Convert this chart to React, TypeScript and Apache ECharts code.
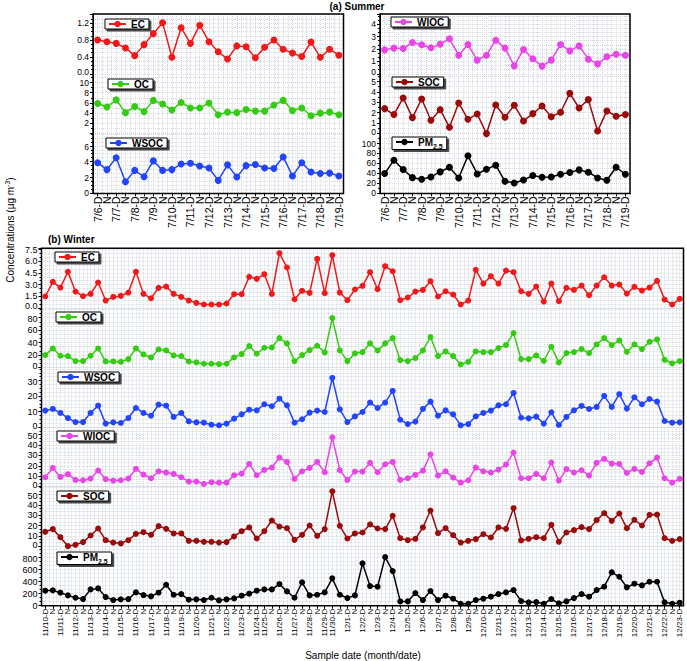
import React, { useEffect, useRef } from "react";
import * as echarts from "echarts";

const FONT = '"Liberation Sans", Arial, Helvetica, sans-serif';
const GRID_COLOR = "#d3d8e0";

// ---------- categories ----------
const summerCategories = [
  "7/6-D", "N", "7/7-D", "N", "7/8-D", "N", "7/9-D", "N", "7/10-D", "N", "7/11-D", "N", "7/12-D", "N",
  "7/13-D", "N", "7/14-D", "N", "7/15-D", "N", "7/16-D", "N", "7/17-D", "N", "7/18-D", "N", "7/19-D",
];

const winterCategories = [
  "11/10-D", "N", "11/11-D", "N", "11/12-D", "N", "11/13-D", "N", "11/14-D", "N", "11/15-D", "N",
  "11/16-D", "N", "11/17-D", "N", "11/18-D", "N", "11/19-D", "N", "11/20-D", "N", "11/21-D", "N",
  "11/22-D", "N", "11/23-D", "N", "11/24-D", "11/25-D", "N", "11/26-D", "N", "11/27-D", "N",
  "11/28-D", "N", "11/29-D", "11/30-D", "N", "12/1-D", "N", "12/2-D", "N", "12/3-D", "N", "12/4-D", "N",
  "12/5-D", "N", "12/6-D", "N", "12/7-D", "N", "12/8-D", "N", "12/9-D", "N", "12/10-D", "N",
  "12/11-D", "N", "12/12-D", "N", "12/13-D", "N", "12/14-D", "N", "12/15-D", "N", "12/16-D", "N",
  "12/17-D", "N", "12/18-D", "N", "12/19-D", "N", "12/20-D", "N", "12/21-D", "N", "12/22-D", "N", "12/23-D",
];

// ---------- summer values ----------
const summerEC = [0.80, 0.76, 0.72, 0.61, 0.43, 0.69, 0.95, 1.21, 0.39, 1.09, 0.72, 1.15, 0.76, 0.52, 0.35, 0.66, 0.64, 0.38, 0.63, 0.80, 0.58, 0.49, 0.41, 0.75, 0.39, 0.58, 0.44];
const summerOC = [5.9, 5.2, 6.6, 4.1, 5.3, 4.3, 6.5, 5.8, 4.6, 6.1, 5.0, 5.0, 6.0, 3.7, 4.2, 4.1, 4.7, 4.4, 4.4, 5.6, 6.5, 4.5, 5.0, 3.5, 4.0, 4.2, 3.7];
const summerWSOC = [3.87, 3.0, 4.5, 1.47, 2.9, 2.1, 4.1, 2.9, 3.0, 3.7, 3.8, 3.45, 3.2, 1.64, 3.6, 2.06, 3.5, 3.65, 3.2, 3.15, 4.6, 2.2, 3.87, 2.7, 2.5, 2.56, 2.2];
const summerWIOC = [1.93, 2.07, 2.04, 2.52, 2.34, 2.1, 2.39, 2.82, 1.5, 2.36, 1.1, 1.5, 2.71, 2.07, 0.64, 1.96, 1.21, 0.62, 1.1, 2.36, 1.85, 2.25, 1.18, 0.8, 1.37, 1.58, 1.5];
const summerSOC = [2.39, 1.82, 3.41, 1.53, 3.31, 1.27, 2.29, 0.6, 2.93, 1.37, 1.88, 0.0, 2.74, 1.56, 2.71, 1.21, 1.91, 2.64, 1.62, 2.04, 3.85, 2.45, 3.25, 0.25, 2.17, 1.66, 1.82];
const summerPM = [39.6, 66.4, 47.7, 31.5, 28.2, 32.9, 43, 52.3, 30.9, 75.2, 38.9, 48.3, 56.4, 24.2, 20.8, 26.8, 35.6, 32.2, 32.9, 38.3, 41.6, 47, 42.3, 30.9, 26.2, 52.3, 38.3];

// ---------- winter values ----------
const winterEC = [
  1.46, 3.34, 2.61, 4.63, 2.1, 1.5, 1.8, 3.26, 0.94, 1.41, 1.54, 1.97, 4.63, 1.8, 1.24, 2.57, 2.74, 1.8, 1.41, 0.94,
  0.64, 0.43, 0.43, 0.43, 0.56, 1.76, 1.76, 3.99, 3.73, 4.33, 1.8, 7.03, 5.19, 1.11, 2.19, 1.93, 6.3, 1.89, 6.77, 1.97,
  0.99, 2.36, 2.83, 4.59, 2.4, 5.36, 4.71, 0.99, 1.33, 2.1, 2.31, 3.43, 1.46, 2.14, 1.71, 0.43, 0.94, 4.89, 3.13, 4.07,
  3.13, 4.8, 4.59, 2.14, 1.8, 2.74, 0.81, 3.13, 0.86, 2.57, 2.31, 2.87, 1.63, 2.87, 3.94, 2.87, 3.0, 1.84, 2.7, 2.23,
  2.61, 3.47, 1.07, 0.43, 1.16,
];
const winterOC = [
  19.9, 30.6, 18.8, 18.3, 10.2, 10.2, 18.8, 30.6, 9.7, 9.7, 9.1, 13.4, 30.6, 20.9, 16.1, 29, 27.4, 19.3, 18.3, 9.7,
  8.1, 5.9, 5.9, 5.4, 5.9, 16.1, 21.5, 34.4, 22, 31.7, 32.2, 47.2, 38.7, 10.2, 19.9, 27.9, 34.9, 24.2, 79.5, 27.4,
  10.2, 22.6, 24.7, 38.7, 27.4, 38.7, 47.2, 11.8, 10.2, 15, 27.4, 48.9, 18.3, 25.8, 18.3, 4.8, 9.1, 25.8, 24.7, 24.7,
  31.1, 36, 55.3, 13.4, 13.4, 19.3, 10.7, 33.3, 8.1, 23.1, 24.7, 29.5, 23.1, 37, 47.2, 36, 43.5, 25.2, 37, 29.5,
  41.3, 45.1, 12.3, 6.4, 10.2,
];
const winterWSOC = [
  10.6, 11.7, 9.1, 5.8, 3.2, 3.2, 9.1, 13.8, 2.2, 3.0, 2.6, 5.8, 12.3, 9.1, 7.3, 14.5, 13.8, 6.5, 9.1, 3.7,
  3.0, 2.8, 1.5, 1.1, 2.2, 5.4, 8.2, 11.2, 10.8, 14.7, 13.4, 18.3, 14.0, 2.8, 5.0, 9.3, 10.6, 9.7, 31.7, 11.4,
  3.2, 6.9, 9.7, 15.8, 12.3, 15.8, 23.3, 4.7, 1.9, 3.5, 11.7, 16.4, 7.3, 10.8, 8.2, 1.1, 1.9, 6.9, 9.1, 10.6,
  14.0, 14.7, 22.0, 6.0, 5.6, 6.7, 2.2, 9.5, 1.3, 6.5, 10.8, 13.6, 11.7, 13.0, 20.1, 13.0, 21.2, 11.9, 19.2, 14.7,
  18.1, 16.4, 3.9, 2.8, 3.0,
];
const winterWIOC = [
  9.0, 17.9, 9.3, 11.9, 6.4, 6.1, 7.7, 15.4, 7.1, 5.8, 6.1, 7.7, 17.0, 11.5, 8.0, 14.7, 13.5, 12.2, 9.0, 4.8,
  4.8, 2.6, 4.2, 3.8, 3.8, 10.9, 12.5, 21.8, 10.9, 16.0, 18.3, 27.9, 23.7, 7.4, 14.7, 17.9, 23.7, 13.8, 47.4, 15.7,
  6.4, 14.4, 14.4, 22.8, 13.8, 21.5, 23.7, 6.4, 8.0, 11.2, 15.4, 31.1, 10.6, 14.7, 8.7, 3.8, 6.1, 18.3, 14.7, 13.5,
  16.3, 21.2, 32.7, 8.0, 8.0, 12.2, 8.0, 23.1, 5.8, 16.7, 13.5, 15.7, 10.6, 22.8, 26.6, 22.1, 21.8, 13.1, 17.0, 14.1,
  22.4, 27.9, 8.0, 3.8, 7.4,
];
const winterSOC = [
  13.9, 16.5, 8.7, 0, 1.3, 3.9, 10.3, 17.1, 5.8, 3.5, 2.6, 5.8, 11.9, 13.5, 11.0, 19.4, 16.8, 12.3, 12.3, 5.2,
  5.2, 4.2, 4.2, 3.5, 3.9, 9.4, 14.5, 18.1, 7.4, 14.5, 24.8, 19.0, 17.4, 6.1, 11.0, 20.0, 10.0, 16.5, 53.2, 19.7,
  7.4, 12.3, 13.2, 21.0, 17.1, 16.5, 29.4, 7.7, 5.8, 7.1, 18.1, 34.5, 12.6, 17.4, 10.6, 3.5, 5.2, 6.8, 11.6, 8.4,
  18.1, 16.8, 36.8, 5.5, 7.1, 8.7, 7.7, 20.6, 4.2, 13.2, 15.5, 18.4, 16.5, 25.2, 31.9, 24.5, 31.6, 17.4, 25.5, 20.0,
  30.3, 30.6, 7.7, 5.2, 6.8,
];
const winterPM = [
  250, 256, 217, 172, 133, 111, 272, 289, 144, 94, 106, 111, 222, 178, 156, 217, 350, 183, 194, 100,
  106, 94, 133, 89, 106, 122, 167, 200, 250, 272, 272, 361, 239, 133, 389, 172, 183, 222, 456, 183,
  128, 172, 706, 328, 317, 811, 578, 72, 72, 211, 94, 244, 94, 167, 117, 33, 33, 94, 117, 150,
  194, 222, 261, 78, 56, 61, 33, 111, 39, 72, 128, 194, 150, 261, 317, 556, 483, 306, 367, 339,
  400, 400, 56, 33, 50,
];

// ---------- colours ----------
const C_EC = "#f01818";
const C_OC = "#33cc11";
const C_WSOC = "#2244ff";
const C_WIOC = "#e845e8";
const C_SOC = "#990a0a";
const C_PM = "#000000";

interface BandSpec {
  name: string; data: number[]; color: string; max: number; interval: number; minor: number;
  digits: number; legendLeft: number; legendTop: number;
}
interface PanelSpec {
  left: number; top: number; width: number; bandH: number; cats: string[]; bands: BandSpec[];
  symbolSize: number; xFont: number; yFont: number; legendFont: number;
}

const panels: PanelSpec[] = [
  {
    left: 93, top: 14, width: 250.5, bandH: 59.8, cats: summerCategories, symbolSize: 7, xFont: 10.5, yFont: 8.5, legendFont: 10,
    bands: [
      { name: "EC", data: summerEC, color: C_EC, max: 1.415, interval: 0.4, minor: 4, digits: 1, legendLeft: 105, legendTop: 19 },
      { name: "OC", data: summerOC, color: C_OC, max: 11.7, interval: 2, minor: 2, digits: 0, legendLeft: 108, legendTop: 79 },
      { name: "WSOC", data: summerWSOC, color: C_WSOC, max: 7.54, interval: 2, minor: 4, digits: 0, legendLeft: 106, legendTop: 138 },
    ],
  },
  {
    left: 380, top: 14, width: 250, bandH: 59.8, cats: summerCategories, symbolSize: 7, xFont: 10.5, yFont: 8.5, legendFont: 10,
    bands: [
      { name: "WIOC", data: summerWIOC, color: C_WIOC, max: 4.82, interval: 1, minor: 3, digits: 0, legendLeft: 391, legendTop: 17 },
      { name: "SOC", data: summerSOC, color: C_SOC, max: 5.72, interval: 1, minor: 2, digits: 0, legendLeft: 392, legendTop: 77 },
      { name: "PM2.5", data: summerPM, color: C_PM, max: 119.5, interval: 20, minor: 2, digits: 0, legendLeft: 392, legendTop: 137 },
    ],
  },
  {
    left: 41.5, top: 248.3, width: 642, bandH: 59.57, cats: winterCategories, symbolSize: 6, xFont: 8, yFont: 9, legendFont: 10,
    bands: [
      { name: "EC", data: winterEC, color: C_EC, max: 7.66, interval: 1.5, minor: 3, digits: 1, legendLeft: 55, legendTop: 252 },
      { name: "OC", data: winterOC, color: C_OC, max: 95.9, interval: 20, minor: 3, digits: 0, legendLeft: 56, legendTop: 312 },
      { name: "WSOC", data: winterWSOC, color: C_WSOC, max: 38.5, interval: 10, minor: 4, digits: 0, legendLeft: 58, legendTop: 372 },
      { name: "WIOC", data: winterWIOC, color: C_WIOC, max: 57.3, interval: 10, minor: 3, digits: 0, legendLeft: 57, legendTop: 431 },
      { name: "SOC", data: winterSOC, color: C_SOC, max: 57.7, interval: 10, minor: 3, digits: 0, legendLeft: 57, legendTop: 491 },
      { name: "PM2.5", data: winterPM, color: C_PM, max: 993, interval: 200, minor: 3, digits: 0, legendLeft: 57, legendTop: 552 },
    ],
  },
];

function buildOption() {
  const grid: any[] = [];
  const xAxis: any[] = [];
  const yAxis: any[] = [];
  const series: any[] = [];
  const legend: any[] = [];
  const graphic: any[] = [];

  panels.forEach((p) => {
    p.bands.forEach((b, i) => {
      const gi = grid.length;
      const last = i === p.bands.length - 1;
      const first = i === 0;
      grid.push({
        left: p.left, top: p.top + i * p.bandH, width: p.width, height: p.bandH,
        containLabel: false, outerBoundsMode: "none",
      });
      const catIdx = xAxis.length;
      xAxis.push({
        type: "category", gridIndex: gi, data: p.cats, boundaryGap: true, position: "bottom",
        axisLine: { show: last, lineStyle: { color: "#000", width: 1 } },
        axisTick: { show: last, alignWithLabel: true, interval: 0, length: 3, lineStyle: { color: "#000" } },
        axisLabel: {
          show: last, interval: 0, rotate: 90, fontSize: p.xFont, color: "#000", fontFamily: FONT, margin: 3,
        },
        splitLine: { show: false },
      });
      xAxis.push({
        type: "value", gridIndex: gi, min: 0, max: p.cats.length, interval: 0.5, position: "top",
        axisLine: { show: false }, axisTick: { show: false }, axisLabel: { show: false },
        splitLine: { show: true, lineStyle: { color: GRID_COLOR, type: "dotted", width: 1 } },
      });
      const interval = b.interval;
      const digits = b.digits;
      const topTick = Math.floor(b.max / interval + 1e-9) * interval;
      yAxis.push({
        type: "value", gridIndex: gi, min: 0, max: b.max, interval,
        axisLine: { show: true, lineStyle: { color: "#000", width: 1 } },
        axisTick: { show: true, length: 3, lineStyle: { color: "#000" } },
        minorTick: { show: true, splitNumber: b.minor, length: 2, lineStyle: { color: "#000" } },
        axisLabel: {
          fontSize: p.yFont, lineHeight: p.yFont, color: "#000", fontFamily: FONT, margin: 4,
          formatter: (v: number) => {
            const r = v / interval;
            if (Math.abs(r - Math.round(r)) > 1e-6) return "";
            const s = v.toFixed(digits);
            if (!last && Math.abs(v) < 1e-9) return "{up|" + s + "}";
            if (!first && Math.abs(v - topTick) < 1e-6) return "{dn|" + s + "}";
            return s;
          },
          rich: {
            up: { fontSize: p.yFont, lineHeight: p.yFont, fontFamily: FONT, color: "#000", padding: [0, 0, 3, 0] },
            dn: { fontSize: p.yFont, lineHeight: p.yFont, fontFamily: FONT, color: "#000", padding: [2, 0, 0, 0] },
          },
        },
        splitLine: { show: true, lineStyle: { color: GRID_COLOR, type: "dotted", width: 1 } },
        minorSplitLine: { show: true, lineStyle: { color: GRID_COLOR, type: "dotted", width: 1 } },
      });
      series.push({
        type: "line", name: b.name, xAxisIndex: catIdx, yAxisIndex: gi, data: b.data,
        symbol: "circle", symbolSize: p.symbolSize, showAllSymbol: true,
        lineStyle: { color: b.color, width: 1.5 },
        itemStyle: { color: b.color, borderWidth: 0 },
        z: 5,
      });
      legend.push({
        left: b.legendLeft, top: b.legendTop, data: [b.name], orient: "horizontal",
        padding: [0, 4, 0, 3], itemWidth: 17, itemHeight: 8,
        backgroundColor: "#fff", borderColor: "#000", borderWidth: 1,
        shadowColor: "rgba(0,0,0,0.7)", shadowOffsetX: 2, shadowOffsetY: 2, shadowBlur: 1,
        selectedMode: false,
        formatter: (name: string) => (name === "PM2.5" ? "{b|PM}{s|2.5}" : "{b|" + name + "}"),
        textStyle: {
          fontFamily: FONT, fontWeight: "bold", fontSize: p.legendFont, color: "#000",
          rich: {
            b: { fontFamily: FONT, fontWeight: "bold", fontSize: p.legendFont, lineHeight: 15, color: "#000" },
            s: { fontFamily: FONT, fontWeight: "bold", fontSize: 7, lineHeight: 15, verticalAlign: "bottom", color: "#000" },
          },
        },
        z: 10,
      });
    });
    graphic.push({
      type: "rect", silent: true, z: 100,
      shape: { x: p.left, y: p.top, width: p.width, height: p.bandH * p.bands.length },
      style: { fill: "none", stroke: "#000", lineWidth: 1.5 },
    });
  });

  graphic.push(
    {
      type: "text", x: 357, y: 6, silent: true,
      style: { text: "(a) Summer", font: `bold 10px ${FONT}`, fill: "#000", align: "center", verticalAlign: "middle" },
    },
    {
      type: "text", x: 48, y: 239, silent: true,
      style: { text: "(b) Winter", font: `bold 10px ${FONT}`, fill: "#000", align: "left", verticalAlign: "middle" },
    },
    {
      type: "text", x: 363, y: 655, silent: true,
      style: { text: "Sample date (month/date)", font: `10px ${FONT}`, fill: "#000", align: "center", verticalAlign: "middle" },
    },
    {
      type: "text", x: 10, y: 230, rotation: Math.PI / 2, silent: true,
      style: {
        text: "{n|Concentrations (µg m}{p|-3}{n|)}",
        align: "center", verticalAlign: "middle", fill: "#000",
        rich: {
          n: { fontFamily: FONT, fontSize: 10, lineHeight: 12, fill: "#000" },
          p: { fontFamily: FONT, fontSize: 7, lineHeight: 12, verticalAlign: "top", fill: "#000" },
        },
      },
    }
  );

  return { animation: false, backgroundColor: "#fff", grid, xAxis, yAxis, series, legend, graphic };
}

export default function App() {
  const ref = useRef<HTMLDivElement>(null);
  useEffect(() => {
    if (!ref.current) return;
    const chart = echarts.init(ref.current, undefined, { renderer: "svg" });
    chart.setOption(buildOption() as any);
    return () => chart.dispose();
  }, []);
  return (
    <div
      ref={ref}
      style={{ position: "fixed", left: 0, top: 0, width: 687, height: 661, background: "#fff" }}
    />
  );
}
